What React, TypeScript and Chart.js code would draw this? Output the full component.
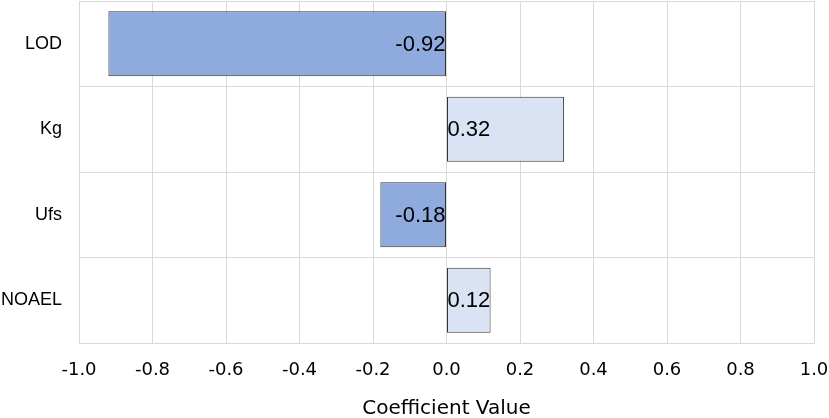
import { useEffect, useRef } from "react"
import { Chart, registerables } from "chart.js"

Chart.register(...registerables)

const categories = ["LOD", "Kg", "Ufs", "NOAEL"]
const coefficients = [-0.92, 0.32, -0.18, 0.12]
const xTicks = [-1.0, -0.8, -0.6, -0.4, -0.2, 0.0, 0.2, 0.4, 0.6, 0.8, 1.0]

const NEG_COLOR = "#8FAADC"
const POS_COLOR = "#DAE3F3"
const GRID_COLOR = "#D9D9D9"

// draws the coefficient next to the zero line, inside each bar
const valueLabels = {
  id: "valueLabels",
  afterDatasetsDraw(chart: Chart) {
    const ctx = chart.ctx
    const xScale = chart.scales.x
    const zero = xScale.getPixelForValue(0)
    const meta = chart.getDatasetMeta(0)
    ctx.save()
    ctx.font = "22px 'Liberation Sans', Arial, sans-serif"
    ctx.fillStyle = "#000"
    ctx.textBaseline = "middle"
    meta.data.forEach((bar, i) => {
      const v = coefficients[i]
      ctx.textAlign = v < 0 ? "right" : "left"
      ctx.fillText(v.toFixed(2), v < 0 ? zero - 1 : zero + 1, bar.y + 1)
    })
    ctx.restore()
  },
}

export default function App() {
  const chartRef = useRef<HTMLCanvasElement>(null)
  const chartInstance = useRef<Chart | null>(null)

  useEffect(() => {
    if (!chartRef.current) return
    if (chartInstance.current) chartInstance.current.destroy()
    const ctx = chartRef.current.getContext("2d")
    if (!ctx) return

    chartInstance.current = new Chart(ctx, {
      type: "bar",
      data: {
        labels: categories,
        datasets: [
          {
            data: coefficients,
            backgroundColor: coefficients.map((v) => (v < 0 ? NEG_COLOR : POS_COLOR)),
            borderColor: "#333333",
            borderWidth: 1,
            borderSkipped: false,
            categoryPercentage: 1,
            barPercentage: 0.76,
          },
        ],
      },
      options: {
        indexAxis: "y",
        animation: false,
        responsive: true,
        maintainAspectRatio: false,
        layout: { padding: { top: 1, right: 15, left: 0, bottom: 0 } },
        plugins: {
          legend: { display: false },
          tooltip: { enabled: false },
        },
        scales: {
          x: {
            min: -1,
            max: 1,
            afterBuildTicks: (scale) => {
              scale.ticks = xTicks.map((value) => ({ value }))
            },
            afterFit: (scale: any) => {
              scale.height = 75
              scale.paddingLeft = 0
              scale.paddingRight = 0
            },
            grid: { color: GRID_COLOR, drawTicks: false },
            border: { color: GRID_COLOR },
            ticks: {
              padding: 17,
              color: "#000",
              font: { family: "'DejaVu Sans', Tahoma, sans-serif", size: 18 },
              callback: (value) => Number(value).toFixed(1),
            },
            title: {
              display: true,
              text: "Coefficient Value",
              color: "#000",
              padding: { top: 0, bottom: -1 },
              font: { family: "'DejaVu Sans', Tahoma, sans-serif", size: 20, lineHeight: 1 },
            },
          },
          y: {
            afterFit: (scale: any) => {
              scale.width = 79
              scale.paddingTop = 0
              scale.paddingBottom = 0
            },
            grid: { color: GRID_COLOR, drawTicks: false },
            border: { display: false },
            ticks: {
              padding: 17,
              color: "#000",
              font: { family: "'Liberation Sans', Arial, sans-serif", size: 18 },
            },
          },
        },
      },
      plugins: [valueLabels],
    })

    return () => {
      if (chartInstance.current) {
        chartInstance.current.destroy()
        chartInstance.current = null
      }
    }
  }, [])

  return (
    <div style={{ position: "fixed", left: 0, top: 0, width: 829, height: 418, background: "#fff" }}>
      <canvas ref={chartRef} />
    </div>
  )
}
